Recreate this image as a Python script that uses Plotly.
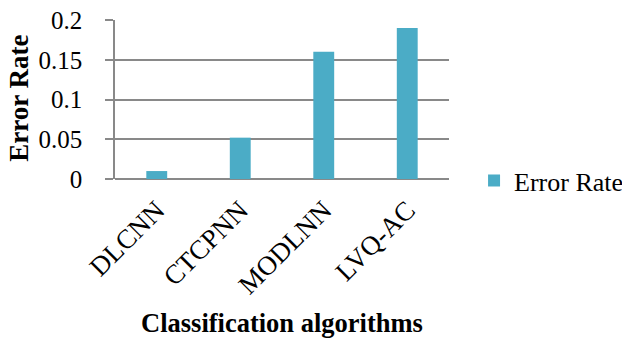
import plotly.graph_objects as go

# Error rate per classification algorithm
algorithms = ["DLCNN", "CTCPNN", "MODLNN", "LVQ-AC"]
error_rate = [0.01, 0.052, 0.16, 0.19]
y_ticks = [0, 0.05, 0.1, 0.15, 0.2]
y_tick_text = ["0", "0.05", "0.1", "0.15", "0.2"]

FONT = "Liberation Serif, Times New Roman, serif"
GRID = "#898989"

fig = go.Figure(
    go.Bar(
        x=algorithms,
        y=error_rate,
        name="Error Rate",
        marker=dict(color="#4BACC6", line=dict(width=0)),
        width=0.25,
    )
)

fig.update_layout(
    width=622,
    height=339,
    margin=dict(l=115, r=173, t=20, b=160, autoexpand=False),
    paper_bgcolor="white",
    plot_bgcolor="white",
    font=dict(family=FONT, size=26, color="black"),
    showlegend=True,
    legend=dict(
        x=1.075, y=-0.01, xanchor="left", yanchor="middle",
        font=dict(family=FONT, size=26, color="black"),
        itemwidth=30, bgcolor="rgba(0,0,0,0)",
    ),
    xaxis=dict(
        tickangle=-45,
        showgrid=False,
        showline=False,
        ticks="",
        ticklabelstandoff=9,
        tickfont=dict(family=FONT, size=27),
    ),
    yaxis=dict(
        range=[0, 0.2],
        tickvals=y_ticks,
        ticktext=y_tick_text,
        showgrid=True,
        gridcolor=GRID,
        gridwidth=1.5,
        zeroline=True,
        zerolinecolor=GRID,
        zerolinewidth=1.5,
        showline=True,
        linecolor=GRID,
        linewidth=1.5,
        ticks="outside",
        ticklen=8,
        tickcolor=GRID,
        tickwidth=1.5,
        ticklabelstandoff=18,
        tickfont=dict(family=FONT, size=25),
    ),
    annotations=[
        dict(
            text="<b>Error Rate</b>", textangle=-90,
            xref="paper", yref="paper", x=-0.288, y=0.51,
            xanchor="center", yanchor="middle", showarrow=False,
            font=dict(family=FONT, size=27),
        ),
        dict(
            text="<b>Classification algorithms</b>",
            xref="paper", yref="paper", x=0.5, y=-0.906,
            xanchor="center", yanchor="middle", showarrow=False,
            font=dict(family=FONT, size=26.5),
        ),
    ],
)

fig.write_html("out.html")
